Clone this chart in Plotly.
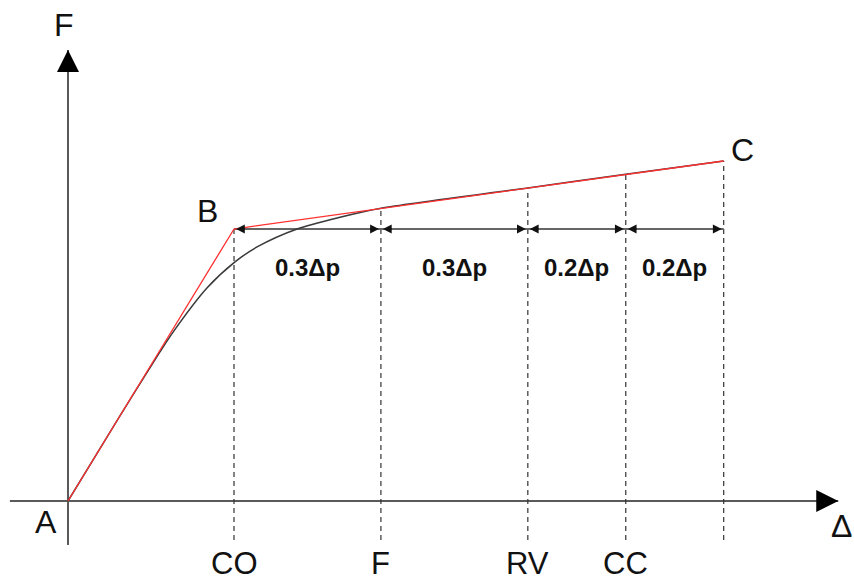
import numpy as np
import plotly.graph_objects as go

# ---------------- data ----------------
# idealised bilinear force-displacement law (Δy = 1, Fy = 1)
point_names = ["A", "B", "C"]
bilinear_x = [0.0, 1.0, 3.95]
bilinear_y = [0.0, 1.0, 1.25]

# actual (smooth) response curve
curve_x = [0.0, 0.30, 0.554, 0.633, 0.837, 1.006, 1.139, 1.38, 1.639, 1.885, 2.77, 3.36, 3.95]
curve_y = [0.0, 0.30, 0.548, 0.621, 0.783, 0.879, 0.934, 1.0, 1.043, 1.076, 1.151, 1.201, 1.25]

# performance levels along the Δ axis
level_labels = ["CO", "F", "RV", "CC"]
level_x = [1.0, 1.885, 2.77, 3.36]
segment_labels = ["0.3Δp", "0.3Δp", "0.2Δp", "0.2Δp"]

axis_labels = ["F", "Δ"]

# ---------------- figure ----------------
W, H = 854, 583
X_RANGE = [-0.4096, 4.7349]
Y_RANGE = [-0.3015, 1.8419]
DASH_BOTTOM = -0.143
AXIS_X = [-0.35, 4.64]
AXIS_Y = [-0.162, 1.658]

FONT = "Liberation Sans, Arial, sans-serif"
fig = go.Figure()

bounds = level_x + [bilinear_x[-1]]
Fy = bilinear_y[1]

# axes lines
fig.add_trace(go.Scatter(x=AXIS_X, y=[0, 0], mode="lines",
                         line=dict(color="#5a5a5a", width=2),
                         hoverinfo="skip", showlegend=False))
fig.add_trace(go.Scatter(x=[0, 0], y=AXIS_Y, mode="lines",
                         line=dict(color="#5a5a5a", width=2),
                         hoverinfo="skip", showlegend=False))

# dashed verticals from Δ axis up to the bilinear line
for xb in bounds:
    ytop = float(np.interp(xb, bilinear_x, bilinear_y))
    fig.add_trace(go.Scatter(x=[xb, xb], y=[DASH_BOTTOM, ytop], mode="lines",
                             line=dict(color="#333333", width=1.2, dash="5px,4px"),
                             hoverinfo="skip", showlegend=False))

# dimension line
fig.add_trace(go.Scatter(x=[bounds[0], bounds[-1]], y=[Fy, Fy], mode="lines",
                         line=dict(color="#666666", width=2),
                         hoverinfo="skip", showlegend=False))

# curve and bilinear law
fig.add_trace(go.Scatter(x=curve_x, y=curve_y, mode="lines",
                         line=dict(color="#3a3a3a", width=1.5, shape="spline", smoothing=0.8),
                         hoverinfo="skip", showlegend=False))
fig.add_trace(go.Scatter(x=bilinear_x, y=bilinear_y, mode="lines",
                         line=dict(color="#ff3030", width=1.3),
                         hoverinfo="skip", showlegend=False))

annotations = []
# axis arrowheads
annotations.append(dict(x=AXIS_X[1], y=0, ax=-18, ay=0, xref="x", yref="y",
                        text="", showarrow=True, arrowhead=2,
                        arrowsize=2.2, arrowwidth=2, arrowcolor="#000000"))
annotations.append(dict(x=0, y=AXIS_Y[1], ax=0, ay=18, xref="x", yref="y",
                        text="", showarrow=True, arrowhead=2,
                        arrowsize=2.2, arrowwidth=2, arrowcolor="#000000"))

# dimension arrowheads
for a, b in zip(bounds[:-1], bounds[1:]):
    annotations.append(dict(x=b, y=Fy, ax=-12, ay=0, xref="x", yref="y", text="",
                            showarrow=True, arrowhead=2, arrowsize=1.1, arrowwidth=1.6,
                            arrowcolor="#111111", standoff=2))
    annotations.append(dict(x=a, y=Fy, ax=12, ay=0, xref="x", yref="y", text="",
                            showarrow=True, arrowhead=2, arrowsize=1.1, arrowwidth=1.6,
                            arrowcolor="#111111", standoff=2))

# segment labels
for a, b, lab in zip(bounds[:-1], bounds[1:], segment_labels):
    annotations.append(dict(x=(a + b) / 2, y=Fy, yshift=-39, text=f"<b>{lab}</b>",
                            showarrow=False, xref="x", yref="y",
                            font=dict(family=FONT, size=24, color="#111111")))

# level labels below axis
for xv, lab in zip(level_x, level_labels):
    annotations.append(dict(x=xv, y=0, yshift=-63, text=lab, showarrow=False,
                            xref="x", yref="y",
                            font=dict(family=FONT, size=31, color="#111111")))

# point labels
offsets = {"A": (-22, -21), "B": (-27, 18), "C": (19, 11)}
for name, px, py in zip(point_names, bilinear_x, bilinear_y):
    dx, dy = offsets[name]
    annotations.append(dict(x=px, y=py, xshift=dx, yshift=dy, text=name, showarrow=False,
                            xref="x", yref="y",
                            font=dict(family=FONT, size=32, color="#111111")))

# axis names
annotations.append(dict(x=0, y=AXIS_Y[1], yshift=25, xshift=-4, text=axis_labels[0],
                        showarrow=False, xref="x", yref="y",
                        font=dict(family=FONT, size=32, color="#111111")))
annotations.append(dict(x=AXIS_X[1], y=0, xshift=3, yshift=-25, text=axis_labels[1],
                        showarrow=False, xref="x", yref="y",
                        font=dict(family=FONT, size=32, color="#111111")))

fig.update_layout(
    width=W, height=H,
    margin=dict(l=0, r=0, t=0, b=0),
    paper_bgcolor="white", plot_bgcolor="white",
    xaxis=dict(range=X_RANGE, visible=False, fixedrange=True),
    yaxis=dict(range=Y_RANGE, visible=False, fixedrange=True),
    annotations=annotations,
    showlegend=False,
)

fig.write_html("out.html")
